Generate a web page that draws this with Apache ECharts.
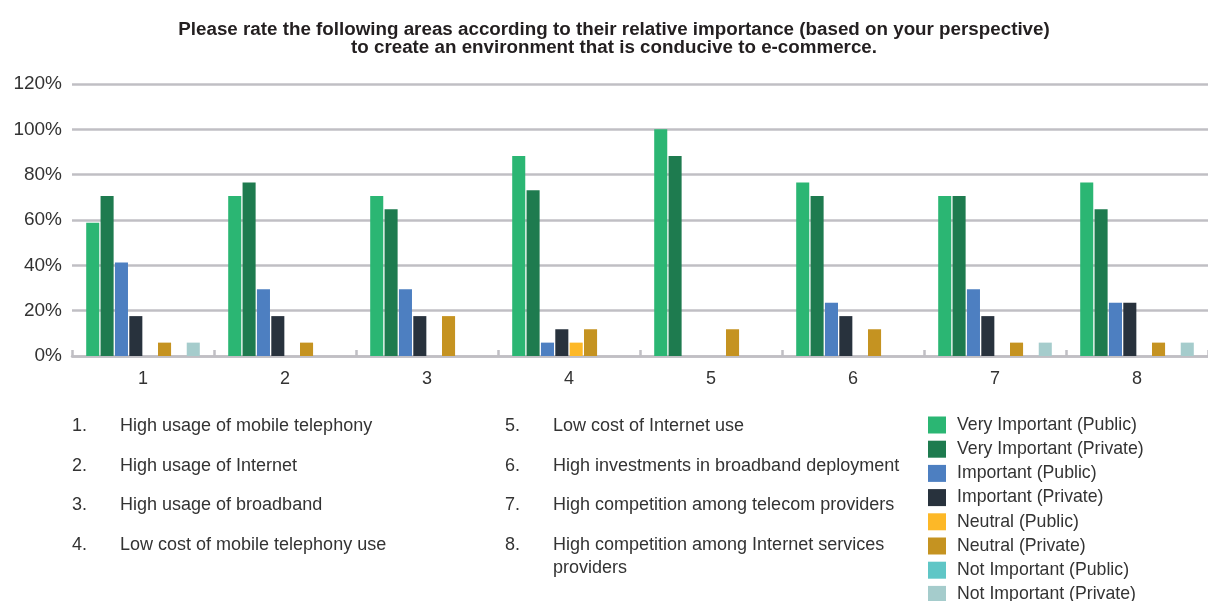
<!DOCTYPE html>
<html>
<head>
<meta charset="utf-8">
<script src="https://cdn.jsdelivr.net/npm/echarts@6/dist/echarts.min.js"></script>
<style>
  html, body { margin: 0; padding: 0; background: #ffffff; }
  #chart { width: 1208px; height: 601px; }
</style>
</head>
<body>
<div id="chart"></div>
<script>
// Survey areas (x-axis categories) and their descriptions
var categories = ['1', '2', '3', '4', '5', '6', '7', '8'];
var areaDescriptions = [
  'High usage of mobile telephony',
  'High usage of Internet',
  'High usage of broadband',
  'Low cost of mobile telephony use',
  'Low cost of Internet use',
  'High investments in broadband deployment',
  'High competition among telecom providers',
  'High competition among Internet services\nproviders'
];

// Share of respondents per rating (percent)
var veryImportantPublic  = [58.8, 70.6, 70.6, 88.2, 100,  76.5, 70.6, 76.5];
var veryImportantPrivate = [70.6, 76.5, 64.7, 73.1, 88.2, 70.6, 70.6, 64.7];
var importantPublic      = [41.2, 29.4, 29.4, 5.9,  0,    23.5, 29.4, 23.5];
var importantPrivate     = [17.6, 17.6, 17.6, 11.8, 0,    17.6, 17.6, 23.5];
var neutralPublic        = [0,    0,    0,    5.9,  0,    0,    0,    0];
var neutralPrivate       = [5.9,  5.9,  17.6, 11.8, 11.8, 11.8, 5.9,  5.9];
var notImportantPublic   = [0,    0,    0,    0,    0,    0,    0,    0];
var notImportantPrivate  = [5.9,  0,    0,    0,    0,    0,    5.9,  5.9];

var seriesNames = [
  'Very Important (Public)', 'Very Important (Private)',
  'Important (Public)', 'Important (Private)',
  'Neutral (Public)', 'Neutral (Private)',
  'Not Important (Public)', 'Not Important (Private)'
];
var seriesValues = [
  veryImportantPublic, veryImportantPrivate,
  importantPublic, importantPrivate,
  neutralPublic, neutralPrivate,
  notImportantPublic, notImportantPrivate
];
var seriesColors = ['#2bb673', '#1e7b4f', '#4d7fc1', '#28323d', '#fdb827', '#c59321', '#5fc6c6', '#a5cccc'];

var yTicks = [0, 20, 40, 60, 80, 100, 120];

var chartTitle = 'Please rate the following areas according to their relative importance (based on your perspective)\nto create an environment that is conducive to e-commerce.';

var FONT = '"Liberation Sans Narrow", "Liberation Sans", Arial, sans-serif';
var TEXT_COLOR = '#333333';

var chart = echarts.init(document.getElementById('chart'), null, { renderer: 'canvas' });

var series = seriesNames.map(function (name, i) {
  return {
    name: name,
    type: 'bar',
    data: seriesValues[i],
    itemStyle: { color: seriesColors[i] },
    barGap: '10%',
    barCategoryGap: '20%',
    animation: false
  };
});

// Two-line centred heading
var graphics = [{
  type: 'text',
  x: 614,
  y: 21,
  style: {
    text: chartTitle,
    font: 'bold 18.8px ' + FONT,
    fill: '#231f20',
    lineHeight: 18,
    align: 'center',
    verticalAlign: 'top'
  }
}];

// Numbered description list below the plot, two columns of four
areaDescriptions.forEach(function (desc, i) {
  var col = Math.floor(i / 4);
  var row = i % 4;
  var baseX = col === 0 ? 72 : 505;
  var y = 415 + row * 39.5;
  graphics.push({
    type: 'text', left: baseX, top: y,
    style: { text: categories[i] + '.', font: '18px ' + FONT, fill: TEXT_COLOR, lineHeight: 23 }
  });
  graphics.push({
    type: 'text', left: baseX + 48, top: y,
    style: { text: desc, font: '18px ' + FONT, fill: TEXT_COLOR, lineHeight: 23 }
  });
});

var option = {
  backgroundColor: '#ffffff',
  animation: false,
  textStyle: { fontFamily: FONT },
  legend: {
    data: seriesNames,
    orient: 'vertical',
    left: 928,
    top: 416,
    height: 260,
    padding: 0,
    icon: 'rect',
    itemWidth: 18,
    itemHeight: 17,
    itemGap: 6.2,
    selectedMode: false,
    textStyle: { fontFamily: FONT, fontSize: 17.7, color: TEXT_COLOR, lineHeight: 17, padding: [0, 0, 0, 6] }
  },
  grid: { left: 72, top: 84, width: 1144, height: 272, containLabel: false },
  xAxis: {
    type: 'category',
    data: categories,
    axisLine: { show: true, lineStyle: { color: '#c0bfc4', width: 2.5 } },
    axisTick: { show: true, inside: true, length: 6, lineStyle: { color: '#c0bfc4', width: 2.5 } },
    axisLabel: { fontFamily: FONT, fontSize: 18, color: TEXT_COLOR, margin: 14 }
  },
  yAxis: {
    type: 'value',
    min: yTicks[0],
    max: yTicks[yTicks.length - 1],
    interval: yTicks[1] - yTicks[0],
    axisLine: { show: false },
    axisTick: { show: false },
    axisLabel: { fontFamily: FONT, fontSize: 19, color: TEXT_COLOR, margin: 10, formatter: '{value}%' },
    splitLine: { show: true, lineStyle: { color: '#c0bfc4', width: 2.5 } }
  },
  series: series,
  graphic: graphics
};

chart.setOption(option);
</script>
</body>
</html>
